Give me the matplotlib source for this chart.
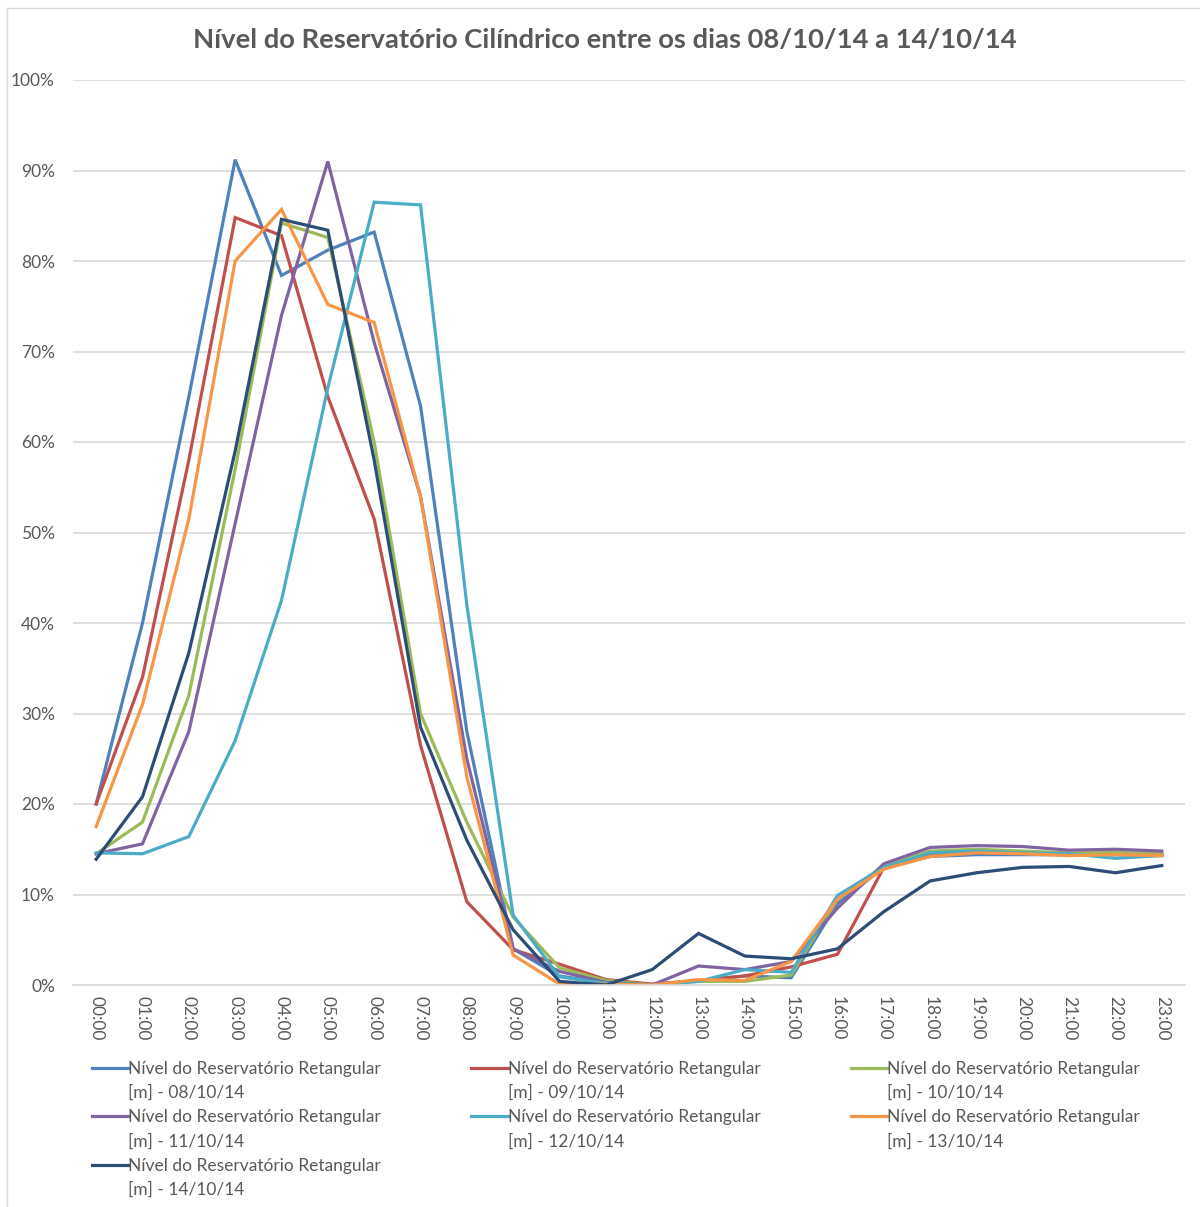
import matplotlib
matplotlib.use("Agg")
import numpy as np
import matplotlib.pyplot as plt
from matplotlib.ticker import PercentFormatter
from matplotlib.legend_handler import HandlerLine2D
from matplotlib.lines import Line2D

hours = ["00:00", "01:00", "02:00", "03:00", "04:00", "05:00", "06:00", "07:00",
         "08:00", "09:00", "10:00", "11:00", "12:00", "13:00", "14:00", "15:00",
         "16:00", "17:00", "18:00", "19:00", "20:00", "21:00", "22:00", "23:00"]

d08 = [20, 40, 65, 91.2, 78.4, 81.2, 83.2, 64, 28, 4, 1, 0.2, 0, 0.5, 1.0, 0.8,
       9, 13, 14.2, 14.4, 14.4, 14.4, 14.4, 14.3]
d09 = [20, 34, 58, 84.8, 82.8, 65, 51.5, 26.5, 9.2, 3.9, 2.3, 0.6, 0.1, 0.5, 1.0, 2.0,
       3.4, 13, 14.5, 14.8, 14.6, 14.5, 14.6, 14.5]
d10 = [14.5, 18, 32, 57, 84.2, 82.6, 60, 30, 18, 7.5, 1.9, 0.5, 0, 0.4, 0.4, 1.1,
       9.5, 13.2, 14.8, 15.0, 14.8, 14.6, 14.6, 14.5]
d11 = [14.5, 15.6, 28, 51, 74, 91, 71, 54, 25, 4, 1.5, 0.3, 0, 2.1, 1.7, 2.6,
       8.5, 13.4, 15.2, 15.4, 15.3, 14.9, 15.0, 14.8]
d12 = [14.6, 14.5, 16.4, 27, 42.5, 66, 86.5, 86.2, 42, 7.7, 0.9, 0.2, 0, 0.4, 1.7, 1.4,
       9.9, 13, 14.6, 14.8, 14.6, 14.5, 14.0, 14.3]
d13 = [17.5, 31, 51.5, 80, 85.7, 75.2, 73.2, 54, 23, 3.3, 0.1, 0.1, 0, 0.6, 0.5, 2.6,
       9.5, 12.8, 14.2, 14.6, 14.5, 14.3, 14.4, 14.3]
d14 = [13.9, 20.8, 36.7, 59, 84.6, 83.4, 58, 28.5, 16, 6.1, 0.4, 0.0, 1.7, 5.7, 3.2, 2.9,
       4.0, 8.1, 11.5, 12.4, 13.0, 13.1, 12.4, 13.2]

series = [d08, d09, d10, d11, d12, d13, d14]
labels = ["Nível do Reservatório Retangular\n[m] - 08/10/14",
          "Nível do Reservatório Retangular\n[m] - 09/10/14",
          "Nível do Reservatório Retangular\n[m] - 10/10/14",
          "Nível do Reservatório Retangular\n[m] - 11/10/14",
          "Nível do Reservatório Retangular\n[m] - 12/10/14",
          "Nível do Reservatório Retangular\n[m] - 13/10/14",
          "Nível do Reservatório Retangular\n[m] - 14/10/14"]
colors = ["#4F81BD", "#C0504D", "#9BBB59", "#8064A2", "#4BACC6", "#F79646", "#2C4D75"]

title = "Nível do Reservatório Cilíndrico entre os dias 08/10/14 a 14/10/14"

plt.rcParams['font.family'] = ['Lato', 'DejaVu Sans']

HANDLE_SHIFT_PT = 13.5 / (100 / 72)


class TopLineHandler(HandlerLine2D):
    def create_artists(self, legend, orig_handle, xdescent, ydescent, width,
                       height, fontsize, trans):
        arts = super().create_artists(legend, orig_handle, xdescent, ydescent,
                                      width, height, fontsize, trans)
        for a in arts:
            if isinstance(a, Line2D):
                a.set_ydata(np.asarray(a.get_ydata(), dtype=float) + HANDLE_SHIFT_PT)
        return arts


fig = plt.figure(figsize=(12, 12.07), dpi=100)
fig.patch.set_facecolor("white")

# chart-area border (left and top edges visible in the reference)
fig.add_artist(Line2D([7/1200, 7/1200], [0, 1 - 8/1207], transform=fig.transFigure,
                      color="#D9D9D9", lw=1.0))
fig.add_artist(Line2D([7/1200, 1], [1 - 8/1207, 1 - 8/1207], transform=fig.transFigure,
                      color="#D9D9D9", lw=1.0))

ax = fig.add_axes([73/1200, 1 - 985/1207, (1185 - 73)/1200, (985 - 80)/1207])

x = list(range(len(hours)))
handles = []
for s, c, lab in zip(series, colors, labels):
    h, = ax.plot(x, [v / 100 for v in s], color=c, lw=2.3, label=lab,
                 solid_joinstyle="miter")
    handles.append(h)

ax.set_xlim(-0.5, len(hours) - 0.5)
ax.set_ylim(0, 1.0)
ax.set_yticks([i / 10 for i in range(11)])
ax.yaxis.set_major_formatter(PercentFormatter(1.0, decimals=0))
ax.set_xticks(x)
ax.set_xticklabels(hours, rotation=-90)
ax.grid(axis="y", color="#D9D9D9", lw=1.2)
ax.set_axisbelow(True)
for side in ["top", "right", "left"]:
    ax.spines[side].set_visible(False)
ax.spines["bottom"].set_color("#D9D9D9")
ax.spines["bottom"].set_linewidth(1.2)
ax.tick_params(axis="both", length=0, labelsize=12.5, labelcolor="#595959")
ax.tick_params(axis="y", pad=13)
ax.tick_params(axis="x", pad=8)

fig.text(0.504, 1 - 40/1207, title, ha="center", va="center", fontsize=19.7,
         fontweight="bold", color="#595959")

order = [0, 3, 6, 1, 4, 2, 5]
leg = fig.legend([handles[i] for i in order], [labels[i] for i in order],
                 ncol=3, loc="upper left",
                 bbox_to_anchor=(92/1200, 1 - 1073/1207, (1140 - 92)/1200, 0.01),
                 mode="expand", frameon=False, fontsize=12.5, handlelength=2.1,
                 handletextpad=0.0, borderpad=0, borderaxespad=0,
                 labelspacing=0.5, labelcolor="#595959",
                 handler_map={Line2D: TopLineHandler()})
for t in leg.get_texts():
    t.set_linespacing(1.58)

fig.savefig("out.png", dpi=100, facecolor="white")
